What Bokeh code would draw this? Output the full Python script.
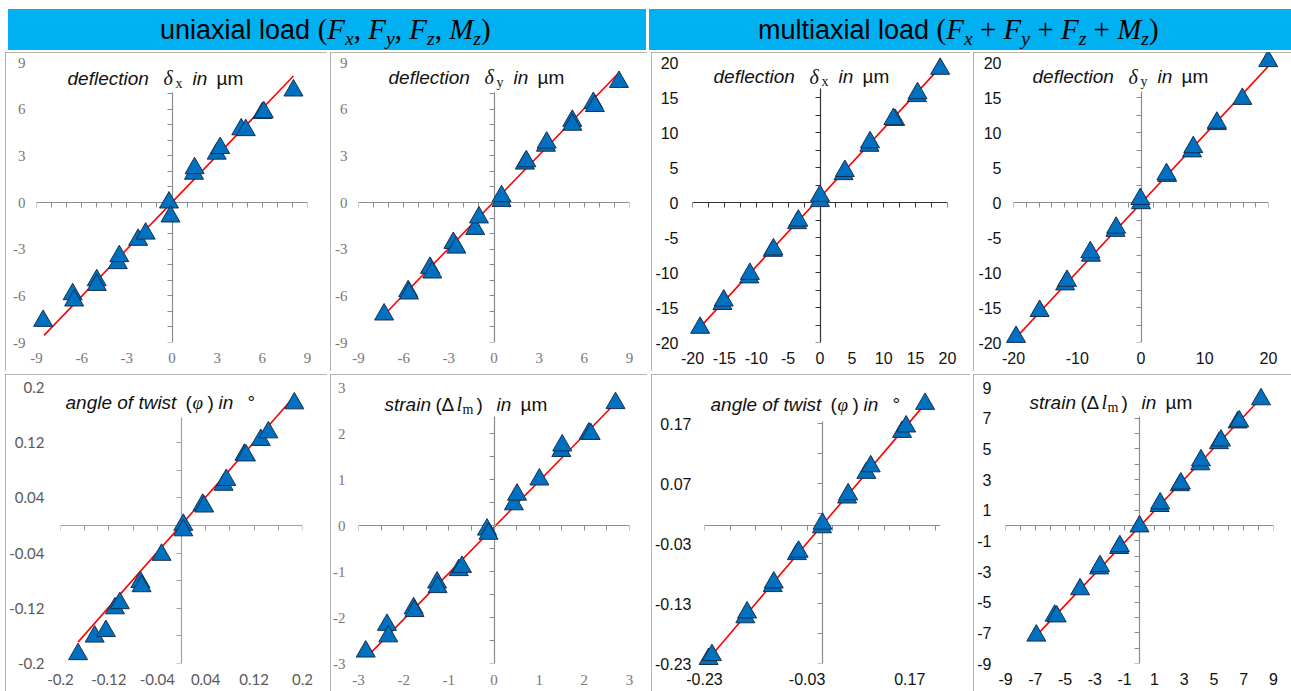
from bokeh.plotting import figure
from bokeh.models import (Range1d, LinearAxis, FixedTicker, CustomJSTickFormatter,
                          Label, Div, ColumnDataSource)
from bokeh.layouts import row, column
from bokeh.embed import file_html
from bokeh.resources import INLINE

# ---------------- data ----------------
# uniaxial, deflection delta_x
ux_dx_x = [-8.56, -6.6, -6.5, -5.0, -5.0, -3.6, -3.5, -2.25, -1.75, -0.2, -0.1, 1.46, 1.5, 2.97, 3.2, 4.6, 4.9, 6.0, 6.1, 8.07]
ux_dx_y = [-7.61, -5.9, -6.3, -5.0, -5.3, -3.9, -3.45, -2.4, -2.0, 0.0, -0.9, 1.85, 2.2, 3.14, 3.5, 4.7, 4.65, 5.75, 5.8, 7.2]
ux_dx_fit_x = [-8.5, 8.07]
ux_dx_fit_y = [-8.54, 8.13]
# uniaxial, deflection delta_y
ux_dy_x = [-7.3, -5.7, -5.65, -4.25, -4.1, -2.7, -2.5, -1.25, -1.0, 0.5, 0.5, 2.05, 2.15, 3.45, 3.5, 5.2, 5.2, 6.6, 6.7, 8.3]
ux_dy_y = [-7.2, -5.7, -5.85, -4.2, -4.5, -2.6, -2.9, -1.7, -0.96, 0.1, 0.4, 2.5, 2.65, 3.65, 3.85, 5.25, 5.0, 6.4, 6.2, 7.75]
ux_dy_fit_x = [-7.3, 8.3]
ux_dy_fit_y = [-7.23, 8.34]
# multiaxial, deflection delta_x
mx_dx_x = [-18.8, -15.3, -15.1, -11.1, -11.0, -7.4, -7.3, -3.6, -3.4, 0.0, 0.0, 3.7, 3.9, 7.75, 7.85, 11.8, 11.5, 15.2, 15.3, 18.85]
mx_dx_y = [-17.9, -14.5, -14.0, -10.7, -10.2, -6.9, -6.7, -2.95, -2.6, 0.2, 0.95, 4.05, 4.5, 8.1, 8.6, 11.8, 11.9, 15.2, 15.6, 19.1]
mx_dx_fit_x = [-18.8, 18.85]
mx_dx_fit_y = [-17.8, 19.3]
# multiaxial, deflection delta_y
mx_dy_x = [-19.6, -15.9, -11.9, -11.6, -7.85, -7.95, -4.0, -3.9, 0.0, -0.1, 4.1, 4.0, 8.0, 8.2, 11.9, 11.9, 15.9, 19.95]
mx_dy_y = [-19.2, -15.5, -11.7, -11.2, -7.6, -7.1, -4.05, -3.6, -0.1, 0.5, 3.8, 4.05, 7.3, 7.9, 11.2, 11.4, 14.8, 20.2]
mx_dy_fit_x = [-19.6, 20.0]
mx_dy_fit_y = [-19.3, 19.5]
# uniaxial, angle of twist
ux_tw_x = [-0.171, -0.1435, -0.125, -0.110, -0.102, -0.068, -0.066, -0.033, 0.003, 0.003, 0.035, 0.0375, 0.0695, 0.074, 0.104, 0.1065, 0.131, 0.1435, 0.1865]
ux_tw_y = [-0.1865, -0.161, -0.153, -0.120, -0.1126, -0.082, -0.088, -0.0425, 0.001, -0.007, 0.030, 0.0275, 0.059, 0.066, 0.1025, 0.1015, 0.124, 0.135, 0.177]
ux_tw_fit_x = [-0.171, 0.1865]
ux_tw_fit_y = [-0.169, 0.187]
# uniaxial, strain
ux_st_x = [-2.84, -2.37, -2.34, -1.78, -1.76, -1.26, -1.25, -0.78, -0.71, -0.155, -0.12, 0.44, 0.51, 1.005, 1.49, 1.51, 2.10, 2.14, 2.69]
ux_st_y = [-2.74, -2.16, -2.41, -1.80, -1.86, -1.24, -1.34, -0.97, -0.90, -0.09, -0.18, 0.46, 0.67, 1.0, 1.62, 1.74, 2.0, 1.99, 2.66]
ux_st_fit_x = [-2.74, 2.73]
ux_st_fit_y = [-2.78, 2.70]
# multiaxial, angle of twist
mx_tw_x = [-0.222, -0.2155, -0.1505, -0.147, -0.097, -0.095, -0.05, -0.0465, -0.001, 0.0, 0.048, 0.05, 0.0855, 0.094, 0.155, 0.163, 0.2]
mx_tw_y = [-0.2225, -0.216, -0.153, -0.145, -0.101, -0.095, -0.0477, -0.0437, -0.003, 0.003, 0.0466, 0.052, 0.0877, 0.0986, 0.156, 0.165, 0.2027]
mx_tw_fit_x = [-0.222, 0.2]
mx_tw_fit_y = [-0.2225, 0.2027]
# multiaxial, strain
mx_st_x = [-6.93, -5.7, -5.56, -3.99, -2.71, -2.65, -1.37, -1.32, 0.0, 1.35, 1.39, 2.71, 2.78, 4.08, 4.13, 5.34, 5.47, 6.59, 6.7, 8.16]
mx_st_y = [-7.18, -5.88, -5.93, -4.16, -2.80, -2.65, -1.47, -1.35, -0.06, 1.27, 1.44, 2.63, 2.74, 3.99, 4.25, 5.37, 5.54, 6.72, 6.79, 8.23]
mx_st_fit_x = [-6.93, 8.16]
mx_st_fit_y = [-7.18, 8.3]

# ---------------- tick labels ----------------
nine_ticks = [-9, -6, -3, 0, 3, 6, 9]
nine_labels = ["-9", "-6", "-3", "0", "3", "6", "9"]
twenty5_ticks = [-20, -15, -10, -5, 0, 5, 10, 15, 20]
twenty5_labels = ["-20", "-15", "-10", "-5", "0", "5", "10", "15", "20"]
twenty10_ticks = [-20, -10, 0, 10, 20]
twenty10_labels = ["-20", "-10", "0", "10", "20"]
tw_ux_ticks = [-0.2, -0.12, -0.04, 0.04, 0.12, 0.2]
tw_ux_labels = ["-0.2", "-0.12", "-0.04", "0.04", "0.12", "0.2"]
st_ux_ticks = [-3, -2, -1, 0, 1, 2, 3]
st_ux_labels = ["-3", "-2", "-1", "0", "1", "2", "3"]
tw_mx_xticks = [-0.23, -0.03, 0.17]
tw_mx_xlabels = ["-0.23", "-0.03", "0.17"]
tw_mx_yticks = [-0.23, -0.13, -0.03, 0.07, 0.17]
tw_mx_ylabels = ["-0.23", "-0.13", "-0.03", "0.07", "0.17"]
st_mx_ticks = [-9, -7, -5, -3, -1, 1, 3, 5, 7, 9]
st_mx_labels = ["-9", "-7", "-5", "-3", "-1", "1", "3", "5", "7", "9"]

# minor tick marks on the crossing axes
m9 = [-9, -8, -7, -6, -5, -4, -3, -2, -1, 0, 1, 2, 3, 4, 5, 6, 7, 8, 9]
m20_25 = [-20, -17.5, -15, -12.5, -10, -7.5, -5, -2.5, 0, 2.5, 5, 7.5, 10, 12.5, 15, 17.5, 20]
m20_2 = [-20, -18, -16, -14, -12, -10, -8, -6, -4, -2, 0, 2, 4, 6, 8, 10, 12, 14, 16, 18, 20]
m_tw_ux = [-0.2, -0.16, -0.12, -0.08, -0.04, 0.0, 0.04, 0.08, 0.12, 0.16, 0.2]
m_st_ux = [-3, -2.5, -2, -1.5, -1, -0.5, 0, 0.5, 1, 1.5, 2, 2.5, 3]
m_tw_mx = [-0.23, -0.18, -0.13, -0.08, -0.03, 0.02, 0.07, 0.12, 0.17, 0.22]

SANS = "Liberation Sans"
SERIF = "Liberation Serif"

TITLE_DEFL = lambda sub: [
    ("deflection", 0, 0, SANS, "italic", 19),
    ("\u03b4", 96, 0, SERIF, "italic", 20),
    (sub, 108, 5, SERIF, "normal", 14),
    ("in", 125, 0, SANS, "italic", 19),
    ("\u00b5m", 149, 0, SANS, "normal", 19),
]
TITLE_TWIST = [
    ("angle  of twist", 0, 0, SANS, "italic", 19),
    ("(", 120, 0, SANS, "normal", 19),
    ("\u03c6", 127, 0, SERIF, "italic", 19),
    (")", 142, 0, SANS, "normal", 19),
    ("in", 153, 0, SANS, "italic", 19),
    ("\u00b0", 182, 0, SANS, "normal", 19),
]
TITLE_STRAIN = [
    ("strain", 0, 0, SANS, "italic", 19),
    ("(", 51, 0, SANS, "normal", 19),
    ("\u0394", 57, 0, SANS, "normal", 19),
    ("l", 72, 0, SERIF, "italic", 20),
    ("m", 78, 5, SERIF, "normal", 14),
    (")", 92, 0, SANS, "normal", 19),
    ("in", 112, 0, SANS, "italic", 19),
    ("\u00b5m", 136, 0, SANS, "normal", 19),
]

LAB_FMT = """
let b = 0, d = Infinity;
for (let i = 0; i < tv.length; i++) { const e = Math.abs(tv[i] - tick); if (e < d) { d = e; b = i; } }
return tl[b];
"""

panels = [
    dict(x=ux_dx_x, y=ux_dx_y, fx=ux_dx_fit_x, fy=ux_dx_fit_y, xr=(-9, 9), yr=(-9, 9),
         xt=nine_ticks, xl=nine_labels, yt=nine_ticks, yl=nine_labels, mx=m9, my=m9[:17], vb=(-9, 7.1),
         W=322, H=319, L=31, R=302, T=8, B=290, ys=11, xs=10, font=SERIF, fs=15, lc="#777777", ac="#8c8c8c",
         title=TITLE_DEFL("x"), tx=62, ty=24, margin=(2, 0, 0, 5)),
    dict(x=ux_dy_x, y=ux_dy_y, fx=ux_dy_fit_x, fy=ux_dy_fit_y, xr=(-9, 9), yr=(-9, 9),
         xt=nine_ticks, xl=nine_labels, yt=nine_ticks, yl=nine_labels, mx=m9, my=m9[:17], vb=(-9, 7.1),
         W=317, H=319, L=28, R=299, T=8, B=290, ys=11, xs=10, font=SERIF, fs=15, lc="#777777", ac="#8c8c8c",
         title=TITLE_DEFL("y"), tx=58, ty=23, margin=(2, 0, 0, 3)),
    dict(x=mx_dx_x, y=mx_dx_y, fx=mx_dx_fit_x, fy=mx_dx_fit_y, xr=(-20, 20), yr=(-20, 20),
         xt=twenty5_ticks, xl=twenty5_labels, yt=twenty5_ticks, yl=twenty5_labels, mx=m20_25, my=m20_25[:15], vb=(-20, 16.3),
         W=319, H=319, L=41, R=296, T=10, B=290, ys=14, xs=9, font=SANS, fs=16, lc="#111111", ac="#333333",
         title=TITLE_DEFL("x"), tx=62, ty=24, margin=(2, 0, 0, 4)),
    dict(x=mx_dy_x, y=mx_dy_y, fx=mx_dy_fit_x, fy=mx_dy_fit_y, xr=(-20, 20), yr=(-20, 20),
         xt=twenty10_ticks, xl=twenty10_labels, yt=twenty5_ticks, yl=twenty5_labels, mx=m20_2, my=m20_25[:15], vb=(-20, 15.8),
         W=318, H=319, L=40, R=295, T=10, B=290, ys=12, xs=9, font=SANS, fs=16, lc="#111111", ac="#8c8c8c",
         title=TITLE_DEFL("y"), tx=59, ty=24, margin=(2, 0, 0, 3)),
    dict(x=ux_tw_x, y=ux_tw_y, fx=ux_tw_fit_x, fy=ux_tw_fit_y, xr=(-0.2, 0.2), yr=(-0.2, 0.2),
         xt=tw_ux_ticks, xl=tw_ux_labels, yt=tw_ux_ticks, yl=tw_ux_labels, mx=m_tw_ux, my=m_tw_ux[:9], vb=(-0.2, 0.156),
         W=322, H=317, L=55, R=297, T=13, B=289, ys=16, xs=10, font="Lato", fs=15, lc="#595959", ac="#a0a0a0",
         title=TITLE_TWIST, tx=60, ty=28, margin=(3, 0, 0, 5)),
    dict(x=ux_st_x, y=ux_st_y, fx=ux_st_fit_x, fy=ux_st_fit_y, xr=(-3, 3), yr=(-3, 3),
         xt=st_ux_ticks, xl=st_ux_labels, yt=st_ux_ticks, yl=st_ux_labels, mx=m_st_ux, my=m_st_ux[:11], vb=(-3, 2.37),
         W=317, H=317, L=28, R=299, T=11, B=289, ys=13, xs=11, font=SERIF, fs=15, lc="#777777", ac="#8c8c8c",
         title=TITLE_STRAIN, tx=54, ty=28, margin=(3, 0, 0, 3)),
    dict(x=mx_tw_x, y=mx_tw_y, fx=mx_tw_fit_x, fy=mx_tw_fit_y, xr=(-0.23, 0.23), yr=(-0.23, 0.23),
         xt=tw_mx_xticks, xl=tw_mx_xlabels, yt=tw_mx_yticks, yl=tw_mx_ylabels, mx=m_tw_mx, my=m_tw_mx[:9], vb=(-0.23, 0.173),
         W=319, H=317, L=53, R=289, T=11, B=291, ys=13, xs=9, font=SANS, fs=16, lc="#111111", ac="#8c8c8c",
         title=TITLE_TWIST, tx=59, ty=28, margin=(3, 0, 0, 4)),
    dict(x=mx_st_x, y=mx_st_y, fx=mx_st_fit_x, fy=mx_st_fit_y, xr=(-9, 9), yr=(-9, 9),
         xt=st_mx_ticks, xl=st_mx_labels, yt=st_mx_ticks, yl=st_mx_labels, mx=m9, my=m9[:17], vb=(-9, 7.1),
         W=318, H=317, L=32, R=300, T=13, B=291, ys=14, xs=9, font=SANS, fs=16, lc="#111111", ac="#8c8c8c",
         title=TITLE_STRAIN, tx=56, ty=28, margin=(3, 0, 0, 3)),
]


def build(s):
    W, H, L, R, T, B = s["W"], s["H"], s["L"], s["R"], s["T"], s["B"]
    x0, x1 = s["xr"]
    y0, y1 = s["yr"]
    p = figure(width=W, height=H, x_range=Range1d(x0, x1), y_range=Range1d(y0, y1),
               output_backend="svg", toolbar_location=None,
               min_border_left=L, min_border_right=W - R, min_border_top=T, min_border_bottom=H - B,
               background_fill_color="white", border_fill_color="white", outline_line_color=None)
    p.xgrid.visible = False
    p.ygrid.visible = False
    p.margin = s["margin"]
    p.styles = {"outline": "1px solid #9a9a9a", "outline-offset": "-1px"}

    for ax, ticks, labs, st in ((p.xaxis[0], s["xt"], s["xl"], s["xs"]), (p.yaxis[0], s["yt"], s["yl"], s["ys"])):
        ax.ticker = FixedTicker(ticks=ticks)
        ax.formatter = CustomJSTickFormatter(args=dict(tv=ticks, tl=labs), code=LAB_FMT)
        ax.axis_line_color = None
        ax.major_tick_line_color = None
        ax.minor_tick_line_color = None
        ax.major_tick_out = 0
        ax.major_tick_in = 0
        ax.major_label_standoff = st
        ax.major_label_text_font = s["font"]
        ax.major_label_text_font_size = f"{s['fs']}px"
        ax.major_label_text_color = s["lc"]

    # crossing axes at zero
    va = LinearAxis(fixed_location=0, ticker=FixedTicker(ticks=s["my"]), bounds=s["vb"],
                    formatter=CustomJSTickFormatter(code="return ''"),
                    axis_line_color=s["ac"], axis_line_width=1.2, major_tick_line_color=s["ac"],
                    major_tick_out=5, major_tick_in=0, minor_tick_line_color=None,
                    major_label_text_color=None, major_label_standoff=0)
    ha = LinearAxis(fixed_location=0, ticker=FixedTicker(ticks=s["mx"]), bounds=s["xr"],
                    formatter=CustomJSTickFormatter(code="return ''"),
                    axis_line_color=s["ac"], axis_line_width=1.2, major_tick_line_color=s["ac"],
                    major_tick_out=5, major_tick_in=0, minor_tick_line_color=None,
                    major_label_text_color=None, major_label_standoff=0)
    p.add_layout(va, "left")
    p.add_layout(ha, "below")

    p.line(s["fx"], s["fy"], line_color="#ff0000", line_width=1.6)
    src = ColumnDataSource(dict(x=s["x"], y=s["y"]))
    p.scatter("x", "y", source=src, marker="triangle", size=19, fill_color="#0070c0",
              line_color="#15304f", line_width=1, level="overlay")

    # title pieces, placed in data coordinates derived from panel pixels
    fw, fh = R - L, B - T
    for text, dx, dy, font, style, size in s["title"]:
        lx = s["tx"] + dx
        ly = s["ty"] + dy
        xd = x0 + (lx - L) / fw * (x1 - x0)
        yd = y1 - (ly - T) / fh * (y1 - y0)
        p.add_layout(Label(x=xd, y=yd, text=text, text_font=font, text_font_style=style,
                           text_font_size=f"{size}px", text_color="#111111",
                           text_align="left", text_baseline="alphabetic"))
    return p


figs = [build(s) for s in panels]

hdr_style = ("box-sizing:border-box;height:41px;background:#00B0F0;line-height:41px;white-space:nowrap;"
             "font-family:'Liberation Sans',sans-serif;font-size:27px;color:#000;")
sub = "<sub style=\"font-size:0.68em;vertical-align:-0.3em;line-height:0\">{}</sub>"
m = "<span style=\"font-family:'Liberation Serif',serif;font-style:italic;font-size:29px\">{}</span>"
par = "<span style=\"font-family:'Liberation Serif',serif;font-size:29px\">{}</span>"

h1 = ("uniaxial load " + par.format("(") + m.format("F" + sub.format("x")) + par.format(", ")
      + m.format("F" + sub.format("y")) + par.format(", ") + m.format("F" + sub.format("z")) + par.format(", ")
      + m.format("M" + sub.format("z")) + par.format(")"))
h2 = ("multiaxial load " + par.format("(") + m.format("F" + sub.format("x")) + par.format(" + ")
      + m.format("F" + sub.format("y")) + par.format(" + ") + m.format("F" + sub.format("z")) + par.format(" + ")
      + m.format("M" + sub.format("z")) + par.format(")"))

d1 = Div(text=f'<div style="{hdr_style}width:638px;padding-left:152px;">{h1}</div>', width=638, height=41,
         margin=(9, 0, 0, 8))
d2 = Div(text=f'<div style="{hdr_style}width:642px;padding-left:109px;">{h2}</div>', width=642, height=41,
         margin=(9, 0, 0, 3))

layout = column(row(d1, d2), row(*figs[:4]), row(*figs[4:]))

open("out.html", "w").write(file_html(layout, INLINE))
